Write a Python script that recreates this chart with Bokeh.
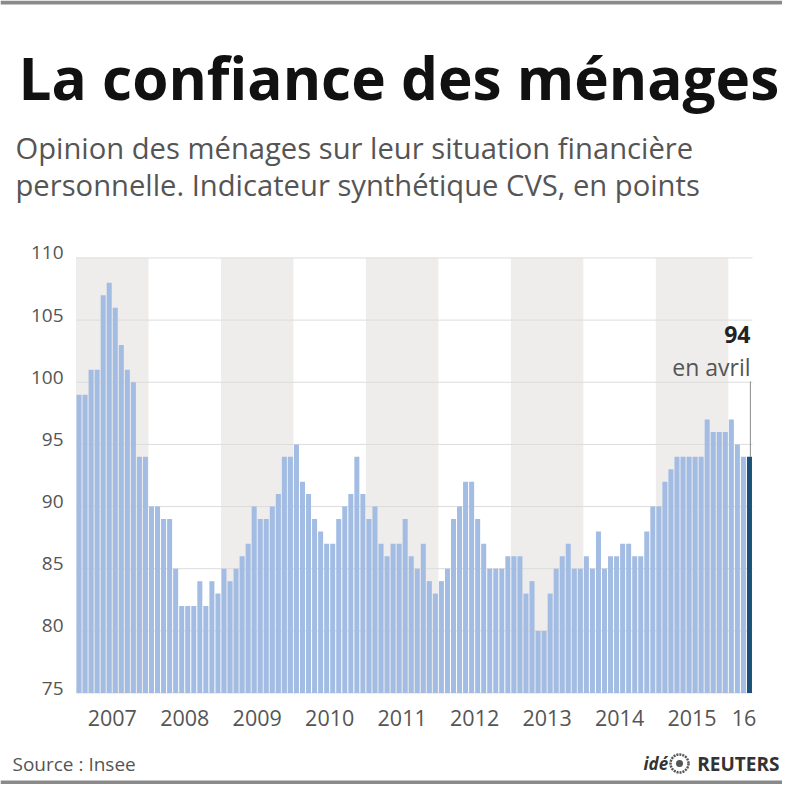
from bokeh.plotting import figure
from bokeh.models import Range1d
from bokeh.core.properties import value
from bokeh.embed import file_html
from bokeh.resources import INLINE

# ---- data (monthly, Jan 2007 - Apr 2016) ----
v2007 = [99, 99, 101, 101, 107, 108, 106, 103, 101, 100, 94, 94]
v2008 = [90, 90, 89, 89, 85, 82, 82, 82, 84, 82, 84, 83]
v2009 = [85, 84, 85, 86, 87, 90, 89, 89, 90, 91, 94, 94]
v2010 = [95, 92, 91, 89, 88, 87, 87, 89, 90, 91, 94, 91]
v2011 = [89, 90, 87, 86, 87, 87, 89, 86, 85, 87, 84, 83]
v2012 = [84, 85, 89, 90, 92, 92, 89, 87, 85, 85, 85, 86]
v2013 = [86, 86, 83, 84, 80, 80, 83, 85, 86, 87, 85, 85]
v2014 = [86, 85, 88, 85, 86, 86, 87, 87, 86, 86, 88, 90]
v2015 = [90, 92, 93, 94, 94, 94, 94, 94, 97, 96, 96, 96]
v2016 = [97, 95, 94, 94]
year_labels = ["2007", "2008", "2009", "2010", "2011", "2012", "2013", "2014", "2015", "16"]
y_ticks = [75, 80, 85, 90, 95, 100, 105, 110]
last_value_label = "94"
last_month_label = "en avril"

series = [v2007, v2008, v2009, v2010, v2011, v2012, v2013, v2014, v2015, v2016]
values = [v for yr in series for v in yr]
n = len(values)
xs = [i + 0.5 for i in range(n)]

# ---- geometry: map canvas pixels to data space ----
W, H = 782, 784
M = 6.04          # px per month
X0 = 75.5         # canvas px of month 0
K = 12.43         # px per point
Y75 = 692.5       # canvas px of value 75
base = y_ticks[0]

def px2x(px):
    return (px - X0) / M

def py2y(py):
    return base + (Y75 - py) / K

xr0, xr1 = -X0 / M, (W - X0) / M
p = figure(width=W, height=H,
           x_range=Range1d(xr0, xr1),
           y_range=Range1d(base - (H - Y75) / K, base + Y75 / K),
           output_backend="svg", toolbar_location=None,
           x_axis_location=None, y_axis_location=None,
           min_border=0)
p.outline_line_color = None
p.background_fill_color = "white"
p.border_fill_color = "white"
p.xgrid.visible = False
p.ygrid.visible = False

FONT = value("Open Sans")

# year bands
starts, lens = [], []
s = 0
for yr in series:
    starts.append(s)
    lens.append(len(yr))
    s += len(yr)
band_l = [starts[i] for i in range(0, len(series), 2)]
band_r = [starts[i] + lens[i] for i in range(0, len(series), 2)]
p.quad(left=band_l, right=band_r, bottom=y_ticks[0], top=y_ticks[-1],
       fill_color="#efedeb", line_color=None)

# gridlines
p.segment(x0=[0] * len(y_ticks), x1=[n] * len(y_ticks), y0=y_ticks, y1=y_ticks,
          line_color="#dcdcdc", line_width=1)

# bars
colors = ["#a2bce3"] * (n - 1) + ["#1b5079"]
p.vbar(x=xs, top=values, bottom=base, width=0.83, fill_color=colors, line_color=None)

# y tick labels
p.text(x=[px2x(63)] * len(y_ticks), y=y_ticks, text=[str(t) for t in y_ticks],
       text_font=FONT, text_font_size="19px", text_color="#555555",
       text_align="right", text_baseline="middle", y_offset=-5)

# year labels
centers = [starts[i] + lens[i] / 2 for i in range(len(series))]
centers[-1] += 0.6
p.text(x=centers, y=[py2y(717)] * len(centers), text=year_labels,
       text_font=FONT, text_font_size="21.5px", text_color="#555555",
       text_align="center", text_baseline="middle")

# last value annotation
lx = xs[-1] + 0.15
p.segment(x0=[lx], x1=[lx], y0=[values[-1]], y1=[py2y(381)],
          line_color="#8a8a8a", line_width=1)
p.text(x=[px2x(750)], y=[py2y(334)], text=[last_value_label], text_font=FONT,
       text_font_size="23px", text_font_style="bold", text_color="#222222",
       text_align="right", text_baseline="middle")
p.text(x=[px2x(750)], y=[py2y(366)], text=[last_month_label], text_font=FONT,
       text_font_size="23px", text_color="#555555",
       text_align="right", text_baseline="middle")

# title & subtitle
p.text(x=[px2x(18)], y=[py2y(76)], text=["La confiance des ménages"], text_font=FONT,
       text_font_size="58.5px", text_font_style="bold", text_color="#111111",
       text_align="left", text_baseline="middle")
p.text(x=[px2x(15)] * 2, y=[py2y(147), py2y(184)],
       text=["Opinion des ménages sur leur situation financière",
             "personnelle. Indicateur synthétique CVS, en points"],
       text_font=FONT, text_font_size="29.2px", text_color="#555555",
       text_align="left", text_baseline="middle")

# source & credit
FY = 763
p.text(x=[px2x(12)], y=[py2y(FY)], text=["Source : Insee"], text_font=FONT,
       text_font_size="19px", text_color="#555555",
       text_align="left", text_baseline="middle")
p.text(x=[px2x(643)], y=[py2y(FY)], text=["idé"], text_font=FONT,
       text_font_size="17px", text_font_style="bold italic", text_color="#333333",
       text_align="left", text_baseline="middle")
p.scatter(x=[px2x(679)], y=[py2y(FY)], size=18, marker="circle",
          fill_color=None, line_color="#555555", line_width=2.5, line_dash="2 1")
p.scatter(x=[px2x(679)], y=[py2y(FY)], size=7, marker="circle",
          fill_color="#555555", line_color=None)
p.text(x=[px2x(779)], y=[py2y(FY)], text=["REUTERS"], text_font=FONT,
       text_font_size="19px", text_font_style="bold", text_color="#333333",
       text_align="right", text_baseline="middle")

# top and bottom rules
p.quad(left=[xr0], right=[xr1], top=[py2y(0)], bottom=[py2y(4)],
       fill_color="#8a8a8a", line_color=None)
p.quad(left=[xr0], right=[xr1], top=[py2y(780)], bottom=[py2y(784)],
       fill_color="#8a8a8a", line_color=None)

open("out.html", "w").write(file_html(p, INLINE))
